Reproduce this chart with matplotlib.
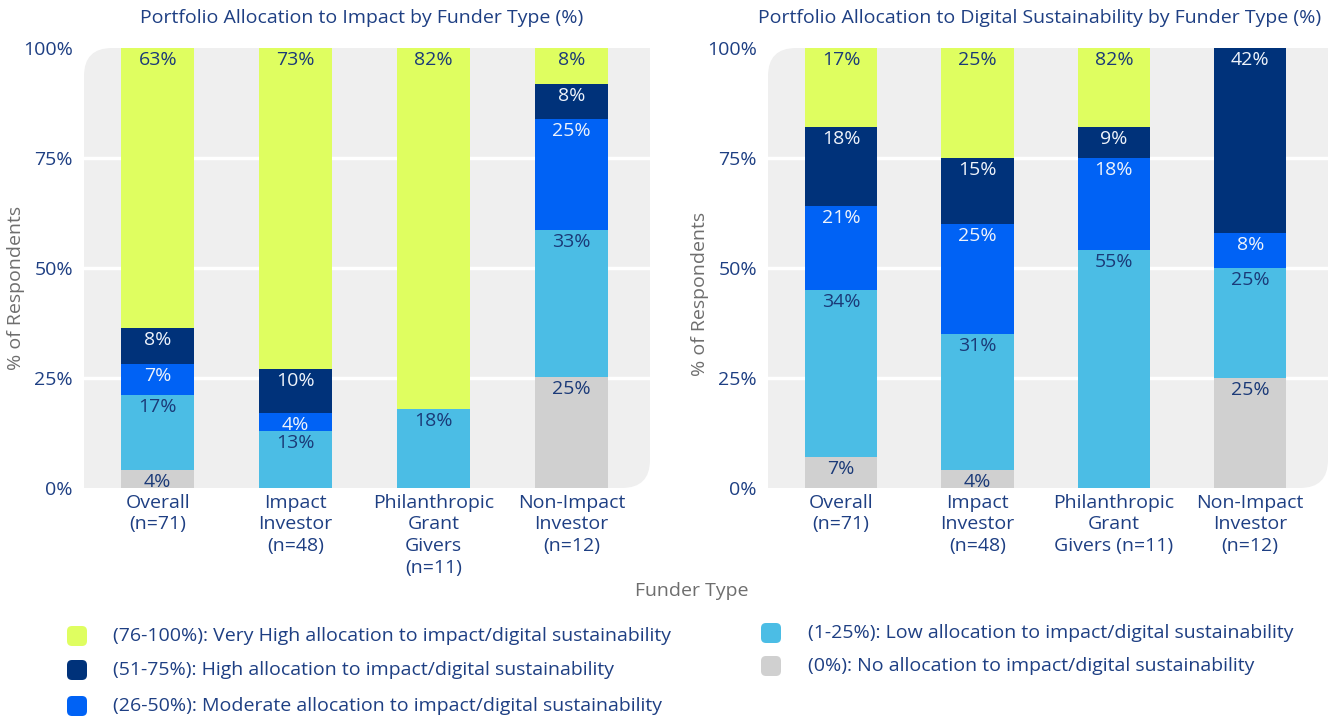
import matplotlib
matplotlib.use("Agg")
import matplotlib.pyplot as plt
import numpy as np
from matplotlib.path import Path
from matplotlib.patches import PathPatch, FancyBboxPatch

plt.rcParams['font.family'] = ['Open Sans', 'DejaVu Sans']

# ---------------- data ----------------
categories_left = ["Overall\n(n=71)", "Impact\nInvestor\n(n=48)",
                   "Philanthropic\nGrant\nGivers\n(n=11)", "Non-Impact\nInvestor\n(n=12)"]
categories_right = ["Overall\n(n=71)", "Impact\nInvestor\n(n=48)",
                    "Philanthropic\nGrant\nGivers (n=11)", "Non-Impact\nInvestor\n(n=12)"]

series_names = ["(0%): No allocation to impact/digital sustainability",
                "(1-25%): Low allocation to impact/digital sustainability",
                "(26-50%): Moderate allocation to impact/digital sustainability",
                "(51-75%): High allocation to impact/digital sustainability",
                "(76-100%): Very High allocation to impact/digital sustainability"]
series_colors = ["#D0D0D0", "#4BBDE5", "#0062F5", "#00327A", "#DFFE60"]
label_colors = ["#1B3A78", "#1B3A78", "#EEF3FB", "#EEF3FB", "#1B3A78"]

# Impact chart: labels (%), rows = None, Low, Moderate, High, Very High
impact_none = [4, 0, 0, 25]
impact_low = [17, 13, 18, 33]
impact_moderate = [7, 4, 0, 25]
impact_high = [8, 10, 0, 8]
impact_very_high = [63, 73, 82, 8]

# Digital sustainability chart: bar heights as drawn (%)
digital_none = [7, 4, 0, 25]
digital_low = [38, 31, 54, 25]
digital_moderate = [19, 25, 21, 8]
digital_high = [18, 15, 7, 42]
digital_very_high = [18, 25, 18, 0]
# Digital sustainability chart: data labels as printed (%)
digital_none_lbl = [7, 4, 0, 25]
digital_low_lbl = [34, 31, 55, 25]
digital_moderate_lbl = [21, 25, 18, 8]
digital_high_lbl = [18, 15, 9, 42]
digital_very_high_lbl = [17, 25, 82, 0]

yticks = [0, 25, 50, 75, 100]
ytick_labels = ["0%", "25%", "50%", "75%", "100%"]

title_left = "Portfolio Allocation to Impact by Funder Type (%)"
title_right = "Portfolio Allocation to Digital Sustainability by Funder Type (%)"
ylabel = "% of Respondents"
xlabel = "Funder Type"

NAVY_TXT = "#1E3F83"
GRAY_TXT = "#6E6E6E"
PANEL = "#EFEFEF"
FS = 14

W, H = 1341, 720
fig = plt.figure(figsize=(W / 100, H / 100), dpi=100)


def px_axes(l, r, t, b):
    return fig.add_axes([l / W, 1 - b / H, (r - l) / W, (b - t) / H])


def rounded_panel(ax, wpx, hpx, rpx=28):
    rx, ry = rpx / wpx, rpx / hpx
    verts = [(0, 0), (1 - rx, 0), (1, 0), (1, ry), (1, 1), (rx, 1), (0, 1), (0, 1 - ry), (0, 0)]
    codes = [Path.MOVETO, Path.LINETO, Path.CURVE3, Path.CURVE3, Path.LINETO,
             Path.LINETO, Path.CURVE3, Path.CURVE3, Path.CLOSEPOLY]
    ax.add_patch(PathPatch(Path(verts, codes), transform=ax.transAxes,
                           facecolor=PANEL, edgecolor="none", zorder=0))


def draw(ax, wpx, hpx, cats, heights, labels, normalize):
    ax.patch.set_visible(False)
    rounded_panel(ax, wpx, hpx)
    for g in [25, 50, 75]:
        ax.axhline(g, color="white", lw=2.5, zorder=1)
    heights = np.array(heights, dtype=float)
    if normalize:
        heights = heights / heights.sum(axis=0) * 100
    x = np.arange(len(cats))
    bottom = np.zeros(len(cats))
    for i in range(len(heights)):
        ax.bar(x, heights[i], bottom=bottom, width=0.53, color=series_colors[i],
               edgecolor="none", zorder=2)
        for j in range(len(cats)):
            if labels[i][j] > 0 and heights[i][j] > 0:
                ax.annotate(f"{labels[i][j]}%", (x[j], bottom[j] + heights[i][j]),
                            xytext=(0, -12), textcoords="offset pixels",
                            ha="center", va="center", fontsize=FS,
                            color=label_colors[i], zorder=3)
        bottom += heights[i]
    ax.set_ylim(0, 100)
    ax.set_xlim(-0.535, 3.57)
    ax.set_yticks(yticks)
    ax.set_yticklabels(ytick_labels, color=NAVY_TXT, fontsize=FS)
    ax.set_xticks(x)
    ax.set_xticklabels(cats, color=NAVY_TXT, fontsize=FS, linespacing=1.27)
    ax.tick_params(length=0, axis="y", pad=8)
    ax.tick_params(length=0, axis="x", pad=4)
    for s in ax.spines.values():
        s.set_visible(False)
    ax.set_ylabel(ylabel, color=GRAY_TXT, fontsize=FS)


axL = px_axes(84, 650, 48, 488)
draw(axL, 566, 440, categories_left,
     [impact_none, impact_low, impact_moderate, impact_high, impact_very_high],
     [impact_none, impact_low, impact_moderate, impact_high, impact_very_high],
     True)
axL.yaxis.set_label_coords(-(84 - 25) / 566, 0.455)

axR = px_axes(768, 1328, 48, 488)
draw(axR, 560, 440, categories_right,
     [digital_none, digital_low, digital_moderate, digital_high, digital_very_high],
     [digital_none_lbl, digital_low_lbl, digital_moderate_lbl, digital_high_lbl, digital_very_high_lbl],
     False)
axR.yaxis.set_label_coords(-(768 - 709) / 560, 0.44)

fig.text(362 / W, 1 - 18 / H, title_left, ha="center", va="center", color=NAVY_TXT, fontsize=FS)
fig.text(1040 / W, 1 - 18 / H, title_right, ha="center", va="center", color=NAVY_TXT, fontsize=FS)
fig.text(692 / W, 1 - 591 / H, xlabel, ha="center", va="center", color=GRAY_TXT, fontsize=FS)

# legend
legend_order = [4, 3, 2, 1, 0]
legend_pos = [(77, 636, 113), (77, 670, 113), (77, 706, 113), (771, 633, 808), (771, 666, 808)]
for k, (mx, my, tx) in zip(legend_order, legend_pos):
    s = 20
    fig.add_artist(FancyBboxPatch(((mx - s / 2) / W, 1 - (my + s / 2) / H), s / W, s / H,
                                  boxstyle=f"round,pad=0,rounding_size={5 / W}",
                                  mutation_aspect=W / H,
                                  transform=fig.transFigure, facecolor=series_colors[k],
                                  edgecolor="none"))
    fig.text(tx / W, 1 - my / H, series_names[k], ha="left", va="center",
             color=NAVY_TXT, fontsize=FS)

fig.savefig("out.png", dpi=100)
